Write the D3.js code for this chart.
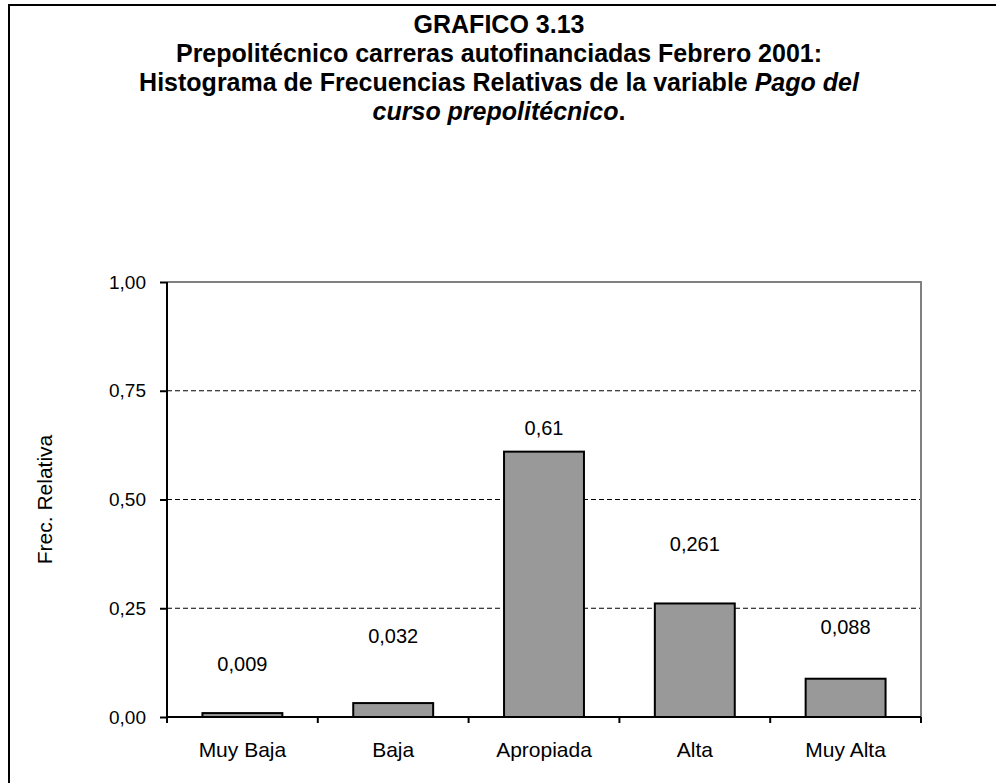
<!DOCTYPE html>
<html>
<head>
<meta charset="utf-8">
<script src="https://cdn.jsdelivr.net/npm/d3@7"></script>
<style>
  html, body { margin: 0; padding: 0; background: #fff; }
  svg { display: block; }
  text { font-family: "Liberation Sans", Arial, sans-serif; fill: #000; }
</style>
</head>
<body>
<script>
// ---- data ----
const categories = ["Muy Baja", "Baja", "Apropiada", "Alta", "Muy Alta"];
const values = [0.009, 0.032, 0.61, 0.261, 0.088];
const valueLabels = ["0,009", "0,032", "0,61", "0,261", "0,088"];
const labelAnchors = [0.122, 0.187, 0.665, 0.398, 0.207]; // label centre heights
const yTicks = [0, 0.25, 0.5, 0.75, 1];
const yTickLabels = ["0,00", "0,25", "0,50", "0,75", "1,00"];
const titleLines = [
  [{t: "GRAFICO 3.13"}],
  [{t: "Prepolitécnico carreras autofinanciadas Febrero 2001:"}],
  [{t: "Histograma de Frecuencias Relativas de la variable "}, {t: "Pago del", i: true}],
  [{t: "curso prepolitécnico", i: true}, {t: "."}]
];
const yTitle = "Frec. Relativa";

// ---- layout ----
const W = 996, H = 783;
const plot = {left: 167, right: 921, top: 282, bottom: 717};

const svg = d3.select("body").append("svg").attr("width", W).attr("height", H);

// outer frame
svg.append("rect").attr("x", 9).attr("y", 5).attr("width", 1010).attr("height", 800)
  .attr("fill", "none").attr("stroke", "#000").attr("stroke-width", 2);

// title
const title = svg.append("text").attr("text-anchor", "middle")
  .attr("font-weight", "bold").attr("font-size", 25);
titleLines.forEach((line, li) => {
  const tl = title.append("tspan").attr("x", 499).attr("y", 33 + li * 29);
  line.forEach(seg => {
    tl.append("tspan").attr("font-style", seg.i ? "italic" : "normal").text(seg.t);
  });
});

const x = d3.scaleBand().domain(categories).range([plot.left, plot.right]).paddingInner(0.47).paddingOuter(0.235);
const xEdges = d3.scaleLinear().domain([0, categories.length]).range([plot.left, plot.right]);
const y = d3.scaleLinear().domain([0, 1]).range([plot.bottom, plot.top]);

// gridlines (dashed)
svg.append("g").selectAll("line").data(yTicks.filter(d => d > 0 && d < 1)).join("line")
  .attr("x1", plot.left).attr("x2", plot.right)
  .attr("y1", d => y(d)).attr("y2", d => y(d))
  .attr("stroke", "#000").attr("stroke-width", 1).attr("stroke-dasharray", "5,3");

// top & right plot border (grey)
svg.append("path")
  .attr("d", `M${plot.left},${y(1)}H${plot.right}V${plot.bottom}`)
  .attr("fill", "none").attr("stroke", "#808080").attr("stroke-width", 2);

// bars
svg.append("g").selectAll("rect").data(values).join("rect")
  .attr("x", (d, i) => x(categories[i]))
  .attr("width", x.bandwidth())
  .attr("y", d => y(d))
  .attr("height", d => y(0) - y(d))
  .attr("fill", "#999999").attr("stroke", "#000").attr("stroke-width", 2);

// value labels
svg.append("g").selectAll("text").data(valueLabels).join("text")
  .attr("x", (d, i) => x(categories[i]) + x.bandwidth() / 2)
  .attr("y", (d, i) => y(labelAnchors[i]))
  .attr("dy", "0.35em")
  .attr("text-anchor", "middle").attr("font-size", 20)
  .text(d => d);

// y axis
const yAxis = d3.axisLeft(y).tickValues(yTicks).tickFormat((d, i) => yTickLabels[i]).tickSize(7).tickPadding(14);
const gy = svg.append("g").attr("transform", `translate(${plot.left},0)`).call(yAxis);
gy.select(".domain").attr("stroke", "#000").attr("stroke-width", 2).attr("d", `M0,${plot.top}V${plot.bottom}`);
gy.selectAll(".tick line").attr("stroke", "#000").attr("stroke-width", 2);
gy.selectAll(".tick text").attr("font-size", 19).attr("font-family", "Liberation Sans, Arial, sans-serif").attr("fill", "#000");

// x axis: ticks at category boundaries
const gx = svg.append("g").attr("transform", `translate(0,${plot.bottom})`);
gx.append("line").attr("x1", plot.left).attr("x2", plot.right).attr("stroke", "#000").attr("stroke-width", 2);
gx.selectAll("line.tk").data(d3.range(categories.length + 1)).join("line").attr("class", "tk")
  .attr("x1", d => xEdges(d)).attr("x2", d => xEdges(d)).attr("y1", 0).attr("y2", 6)
  .attr("stroke", "#000").attr("stroke-width", 2);
gx.selectAll("text").data(categories).join("text")
  .attr("x", d => x(d) + x.bandwidth() / 2).attr("y", 33).attr("dy", "0.35em")
  .attr("text-anchor", "middle").attr("font-size", 21).text(d => d);

// y title
svg.append("text").attr("transform", `translate(45,${(plot.top + plot.bottom) / 2}) rotate(-90)`)
  .attr("text-anchor", "middle").attr("dy", "0.35em").attr("font-size", 21).text(yTitle);
</script>
</body>
</html>
